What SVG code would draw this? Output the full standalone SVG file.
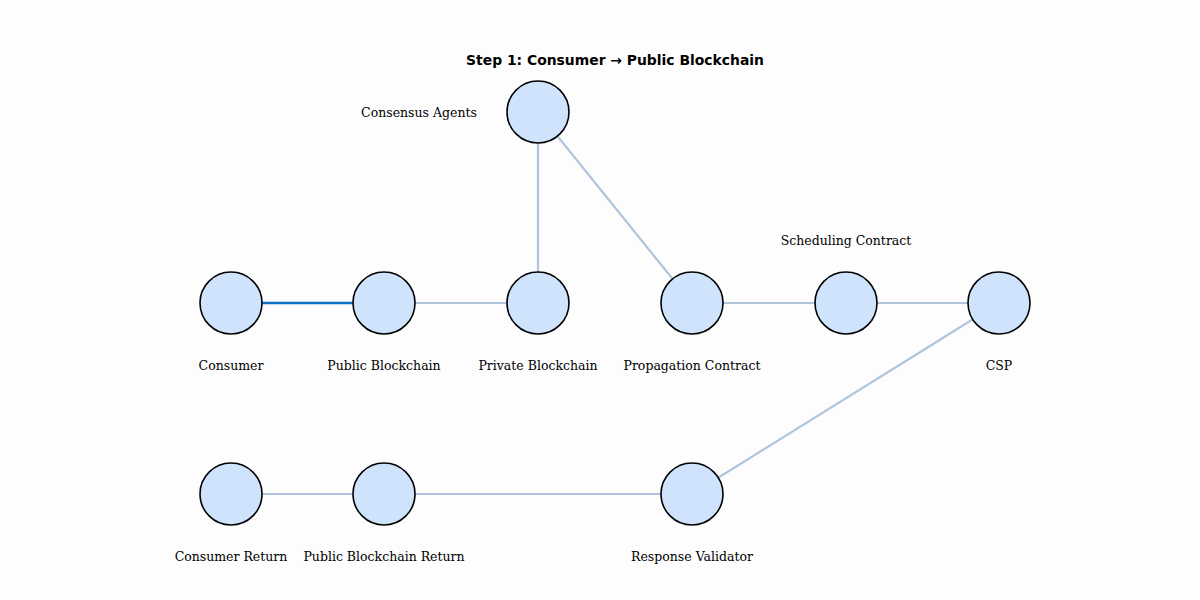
<svg xmlns="http://www.w3.org/2000/svg" width="1200" height="600" viewBox="0 0 1200 600">
<style>
.node{fill:#cfe3fc;stroke:#000;stroke-width:1.6}
.edge{stroke:#b0c4de;stroke-width:2.2;fill:none}
.hi{stroke:#0a72c4;stroke-width:2.6;fill:none}
.lbl{font-family:"DejaVu Serif",serif;font-size:12.5px;fill:#000;text-anchor:middle;dominant-baseline:central}
.title{font-family:"DejaVu Sans",sans-serif;font-size:13.9px;font-weight:bold;fill:#000;text-anchor:middle;dominant-baseline:central}
</style>
<rect width="1200" height="600" fill="#fdfdfd"/>
<text class="title" x="615" y="59.5">Step 1: Consumer → Public Blockchain</text>
<g id="connectors">
<line class="hi" x1="231" y1="303" x2="384" y2="303"/>
<line class="edge" x1="384" y1="303" x2="538" y2="303"/>
<line class="edge" x1="538" y1="303" x2="538" y2="112"/>
<line class="edge" x1="538" y1="112" x2="692" y2="303"/>
<line class="edge" x1="692" y1="303" x2="846" y2="303"/>
<line class="edge" x1="846" y1="303" x2="999" y2="303"/>
<line class="edge" x1="999" y1="303" x2="692" y2="494"/>
<line class="edge" x1="692" y1="494" x2="384" y2="494"/>
<line class="edge" x1="384" y1="494" x2="231" y2="494"/>
</g>
<g id="consensus-agents"><circle class="node" cx="538" cy="112" r="31"/><text class="lbl" x="419" y="112">Consensus Agents</text></g>
<g id="consumer"><circle class="node" cx="231" cy="303" r="31"/><text class="lbl" x="231" y="365">Consumer</text></g>
<g id="public-blockchain"><circle class="node" cx="384" cy="303" r="31"/><text class="lbl" x="384" y="365">Public Blockchain</text></g>
<g id="private-blockchain"><circle class="node" cx="538" cy="303" r="31"/><text class="lbl" x="538" y="365">Private Blockchain</text></g>
<g id="propagation-contract"><circle class="node" cx="692" cy="303" r="31"/><text class="lbl" x="692" y="365">Propagation Contract</text></g>
<g id="scheduling-contract"><circle class="node" cx="846" cy="303" r="31"/><text class="lbl" x="846" y="240">Scheduling Contract</text></g>
<g id="csp"><circle class="node" cx="999" cy="303" r="31"/><text class="lbl" x="999" y="365">CSP</text></g>
<g id="consumer-return"><circle class="node" cx="231" cy="494" r="31"/><text class="lbl" x="231" y="556">Consumer Return</text></g>
<g id="public-blockchain-return"><circle class="node" cx="384" cy="494" r="31"/><text class="lbl" x="384" y="556">Public Blockchain Return</text></g>
<g id="response-validator"><circle class="node" cx="692" cy="494" r="31"/><text class="lbl" x="692" y="556">Response Validator</text></g>
</svg>
